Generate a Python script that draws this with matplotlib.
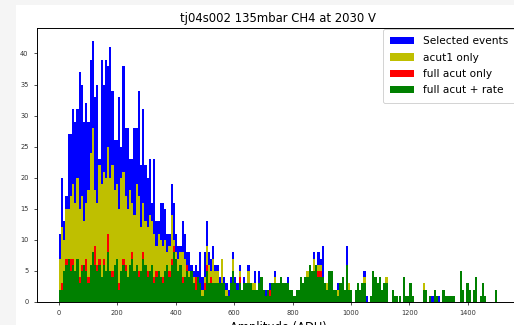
import numpy as np
import matplotlib
matplotlib.use("Agg")
import matplotlib.pyplot as plt
from matplotlib.patches import Rectangle

# 200 bins of 7.5 ADU between 0 and 1500
bin_edges = np.linspace(0, 1500, 201)

selected_events = [
    11,20,13,17,27,27,31,29,31,37, 35,29,32,29,39,42,33,35,23,39,
    35,39,38,41,34,26,26,33,25,38, 28,28,23,23,28,28,34,22,31,22,
    20,23,16,23,13,13,16,16,15,11, 11,19,16,11,9,9,13,11,8,8,
    6,5,6,5,8,4,8,13,8,7, 9,6,6,4,7,4,3,2,4,8,
    4,3,6,2,4,3,6,3,3,5, 2,5,4,2,2,2,3,3,5,3,
    3,4,3,3,4,2,2,1,2,2, 4,3,4,5,6,5,8,6,8,7,
    9,3,3,5,5,2,2,3,3,4, 2,9,3,2,0,2,3,2,3,5,
    1,0,1,5,4,3,4,2,3,4, 0,0,2,1,1,1,0,4,1,1,
    3,1,0,0,0,0,3,2,0,1, 1,2,1,1,0,2,1,1,1,1,
    1,0,0,5,2,0,3,2,0,2, 4,0,1,3,1,0,0,0,0,2,
]
acut1_only = [
    7,12,10,15,15,17,19,16,20,15, 17,13,16,18,24,28,18,16,22,19,
    21,20,25,20,22,18,19,15,20,21, 17,15,18,16,14,19,17,12,16,13,
    12,14,13,11,9,11,10,9,10,8, 9,14,10,8,7,8,8,7,6,5,
    5,4,4,4,3,2,4,9,6,5, 7,5,5,3,7,3,2,1,3,7,
    3,2,5,2,3,3,5,3,3,3, 2,3,4,2,1,2,2,3,4,3,
    3,4,3,3,3,2,2,1,2,2, 4,3,4,5,6,5,7,6,6,6,
    4,3,3,5,5,2,2,2,3,4, 2,6,3,2,0,2,3,2,3,4,
    0,0,1,5,4,3,4,2,3,4, 0,0,2,1,1,1,0,4,1,1,
    3,1,0,0,0,0,3,2,0,1, 0,2,1,0,0,2,1,1,1,1,
    1,0,0,5,2,0,3,2,0,2, 4,0,1,3,1,0,0,0,0,2,
]
full_acut_only = [
    2,3,5,7,7,7,7,5,7,4, 6,6,7,4,6,8,9,6,7,4,
    7,5,11,5,5,6,7,3,5,7, 6,4,6,8,5,6,5,5,8,6,
    5,5,6,4,5,5,4,4,5,6, 5,7,9,7,5,6,4,4,6,4,
    5,3,4,4,3,1,3,6,3,4, 3,3,3,3,3,3,1,1,3,5,
    3,2,4,2,3,3,3,3,2,2, 2,3,4,2,1,2,2,3,3,3,
    3,4,3,3,3,2,2,1,2,2, 4,3,4,4,6,5,5,6,5,5,
    4,3,2,5,5,2,2,1,3,4, 2,6,2,2,0,2,3,2,3,3,
    0,0,1,5,4,3,4,2,3,3, 0,0,2,1,1,1,0,4,1,1,
    3,1,0,0,0,0,2,2,0,1, 0,2,1,0,0,2,1,1,1,1,
    1,0,0,5,2,0,3,2,0,2, 4,0,1,3,1,0,0,0,0,2,
]
full_acut_rate = [
    2,2,5,6,7,5,6,5,7,3, 5,6,5,3,6,8,6,5,6,4,
    6,5,8,5,4,6,7,2,5,6, 5,4,6,7,5,6,4,5,7,6,
    4,5,6,3,4,5,4,3,5,6, 4,6,8,7,5,6,3,4,5,4,
    5,3,2,4,3,1,2,5,3,3, 3,3,3,3,3,3,1,1,3,5,
    3,2,3,2,3,3,3,3,2,2, 2,3,4,2,1,2,1,3,3,3,
    3,4,3,3,3,2,2,1,2,2, 4,3,4,4,6,5,5,6,4,4,
    4,3,2,5,5,2,2,1,3,4, 2,6,2,2,0,2,3,2,3,3,
    0,0,1,5,4,3,4,2,3,3, 0,0,2,1,1,1,0,4,1,1,
    3,1,0,0,0,0,2,2,0,1, 0,2,1,0,0,2,1,1,1,1,
    1,0,0,5,2,0,3,2,0,2, 4,0,1,3,1,0,0,0,0,2,
]

series_labels = ["Selected events", "acut1 only", "full acut only", "full acut + rate"]
series_colors = ["b", "y", "r", "g"]
title_text = "tj04s002 135mbar CH4 at 2030 V"
xlabel_text = "Amplitude (ADU)"
x_ticks = [0, 200, 400, 600, 800, 1000, 1200, 1400]
y_ticks = [0, 5, 10, 15, 20, 25, 30, 35, 40]

W, H = 514, 325
fig = plt.figure(figsize=(W / 100, H / 100), dpi=100)
fig.patch.set_facecolor("#f5f5f5")
bg = Rectangle((16 / W, 0), 1, (H - 5) / H, transform=fig.transFigure,
               facecolor="white", edgecolor="none", zorder=-10)
fig.patches.append(bg)

left, right, top, bottom = 37, 519, 28, 302
ax = fig.add_axes([left / W, (H - bottom) / H, (right - left) / W, (bottom - top) / H])
ax.set_zorder(1)

centers = bin_edges[:-1]
for vals, lab, col in zip([selected_events, acut1_only, full_acut_only, full_acut_rate],
                          series_labels, series_colors):
    ax.hist(centers, bins=bin_edges, weights=vals, color=col, label=lab)

ax.set_xticks(x_ticks)
ax.set_yticks(y_ticks)
ax.tick_params(labelsize=4.8, length=2.5, width=0.6, colors="#333333", labelcolor="#333333")
for s in ax.spines.values():
    s.set_linewidth(0.7)
ax.set_title(title_text, fontsize=8.4, pad=4)
ax.set_xlabel(xlabel_text, fontsize=8.3, labelpad=3)

leg = ax.legend(loc="upper left", bbox_to_anchor=(383 / W, 1 - 29 / H),
                bbox_transform=fig.transFigure, fontsize=7.6, borderaxespad=0,
                borderpad=0.7, handlelength=2.2, handleheight=0.7, handletextpad=0.9,
                labelspacing=0.6, fancybox=True, framealpha=1)
leg.get_frame().set_linewidth(0.6)

fig.savefig("out.png", dpi=100, facecolor=fig.get_facecolor())
